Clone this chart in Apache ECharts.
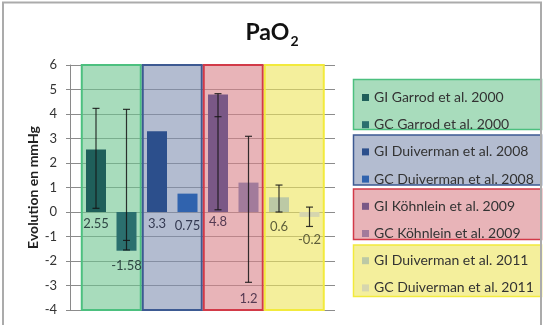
<!DOCTYPE html>
<html><head><meta charset="utf-8">
<script src="https://cdn.jsdelivr.net/npm/echarts@6/dist/echarts.min.js"></script>
<style>html,body{margin:0;padding:0;background:#fff}#c{width:544px;height:325px}</style>
</head><body><div id="c"></div>
<script>
// ---------- data ----------
const seriesNames = ['GI Garrod et al. 2000','GC Garrod et al. 2000','GI Duiverman et al. 2008','GC Duiverman et al. 2008','GI Köhnlein et al. 2009','GC Köhnlein et al. 2009','GI Duiverman et al. 2011','GC Duiverman et al. 2011'];
const barValues = [2.55, -1.58, 3.3, 0.75, 4.8, 1.2, 0.6, -0.2];
const errHigh = [4.23, 4.19, null, null, 4.83, 3.09, 1.10, 0.20];
const errLow  = [0.15, -1.55, null, null, 0.09, -2.87, 0.00, -0.59];
const errMid  = [null, -1.16, null, null, 3.89, null, null, null];
const groupFirst = [0, 2, 4, 6];
const groupLast  = [1, 3, 5, 7];
const yMin = -4, yMax = 6, yStep = 1;

// ---------- styles ----------
const FONT = 'Lato';
const barColors = ['#1f5f5a','#2b6f6e','#2c4f8c','#3063ae','#7a5886','#a27b9b','#bcc9a5','#d6d6ae'];
const labelColors = ['#2f4744','#2f4744','#343a52','#343a52','#553a52','#553a52','#5e5e3a','#5e5e3a'];
const labelNudge = [0, 4, 0, 2, -2, 75, 3, 11];
const groupFill = ['rgba(110,197,143,0.6)','rgba(128,143,177,0.6)','rgba(217,130,137,0.6)','rgba(236,228,90,0.6)'];
const groupBorder = ['#4cc07f','#3d5a92','#d23a48','#f2ea3c'];
const legendBoxY = [[79.5,129.5],[135,185],[189,239.5],[245,296.5]];

const chart = echarts.init(document.getElementById('c'), null, {renderer:'canvas'});

const barSeries = seriesNames.map((name, i) => ({
  name, type:'bar', xAxisIndex:1, yAxisIndex:1, z:3,
  barWidth:20, barGap:'-100%',
  itemStyle:{color:barColors[i]},
  data: seriesNames.map((_, j) => j === i ? barValues[i] : '-'),
  label:{show:true, position:'bottom', distance:5, offset:[0, labelNudge[i]],
    fontFamily:FONT, fontSize:13, color:labelColors[i], formatter:p => String(p.value)},
  emphasis:{disabled:true}, animation:false
}));

const errData = [];
barValues.forEach((v, i) => {
  if (errHigh[i] != null) errData.push([i, errLow[i], errHigh[i], errMid[i] == null ? '-' : errMid[i]]);
});

const groupData = groupFirst.map((f, k) => [f, groupLast[k], yMin, yMax, k]);

const option = {
  animation:false,
  title:{text:'{a|PaO}{b|2}', left:'center', top:14,
    textStyle:{rich:{
      a:{fontFamily:FONT, fontWeight:'bold', fontSize:23, color:'#111', lineHeight:28},
      b:{fontFamily:FONT, fontWeight:'bold', fontSize:14, color:'#111', lineHeight:14, padding:[16,0,0,1]}
    }}},
  legend:{data:seriesNames, orient:'vertical', left:357, top:84.5, icon:'rect',
    itemWidth:7, itemHeight:7, itemGap:11.2, selectedMode:false,
    textStyle:{fontFamily:FONT, fontSize:14, color:'#333', lineHeight:16}},
  grid:[
    {left:70, right:209, top:65, bottom:15},
    {left:80.75, right:219.25, top:65, bottom:15}
  ],
  xAxis:[
    {gridIndex:0, type:'value', show:false, min:0, max:1},
    {gridIndex:1, type:'category', data:seriesNames, show:false, boundaryGap:true}
  ],
  yAxis:[
    {gridIndex:0, type:'value', min:yMin, max:yMax, interval:yStep,
     name:'Evolution en mmHg', nameLocation:'middle', nameGap:30,
     nameTextStyle:{fontFamily:FONT, fontWeight:'bold', fontSize:14, color:'#222'},
     axisLine:{show:true, lineStyle:{color:'#8a8a8a'}},
     axisTick:{show:true, length:4, lineStyle:{color:'#8a8a8a'}},
     axisLabel:{fontFamily:FONT, fontSize:13, color:'#333', margin:13},
     splitLine:{show:true, lineStyle:{color:'#8c8c8c', width:1}}},
    {gridIndex:1, type:'value', min:yMin, max:yMax, show:false, splitLine:{show:false}}
  ],
  graphic:[
    ...legendBoxY.map((yy, k) => ({type:'rect', z:-1, silent:true,
      shape:{x:353.5, y:yy[0], width:188, height:yy[1]-yy[0]},
      style:{fill:groupFill[k], stroke:groupBorder[k], lineWidth:1.5}})),
    {type:'rect', z:100, silent:true, shape:{x:3, y:2.5, width:538, height:400},
      style:{fill:null, stroke:'#ababab', lineWidth:2}}
  ],
  series:[
    {type:'custom', name:'groups', xAxisIndex:1, yAxisIndex:1, z:1, silent:true,
     encode:{x:[0,1], y:[2,3]}, data:groupData,
     renderItem:(params, api) => {
       const bw = api.size([1,0])[0];
       const a = api.coord([api.value(0), api.value(3)]);
       const b = api.coord([api.value(1), api.value(2)]);
       const k = api.value(4);
       const x0 = a[0] - bw/2 + 1, x1 = b[0] + bw/2 - 1;
       return {type:'rect', shape:{x:x0, y:a[1], width:x1-x0, height:b[1]-a[1]},
         style:{fill:groupFill[k], stroke:groupBorder[k], lineWidth:2}};
     }},
    ...barSeries,
    {type:'custom', name:'err', xAxisIndex:1, yAxisIndex:1, z:5, silent:true,
     encode:{x:0, y:[1,2]}, data:errData,
     renderItem:(params, api) => {
       const x = api.value(0);
       const hi = api.coord([x, api.value(2)]);
       const lo = api.coord([x, api.value(1)]);
       const mid = api.value(3);
       const st = {stroke:'rgba(20,20,20,0.85)', lineWidth:1.2};
       const cap = 3.5;
       const kids = [
         {type:'line', shape:{x1:hi[0], y1:hi[1], x2:lo[0], y2:lo[1]}, style:st},
         {type:'line', shape:{x1:hi[0]-cap, y1:hi[1], x2:hi[0]+cap, y2:hi[1]}, style:st},
         {type:'line', shape:{x1:lo[0]-cap, y1:lo[1], x2:lo[0]+cap, y2:lo[1]}, style:st}
       ];
       if (isFinite(mid)) {
         const m = api.coord([x, mid]);
         kids.push({type:'line', shape:{x1:m[0]-cap, y1:m[1], x2:m[0]+cap, y2:m[1]}, style:st});
       }
       return {type:'group', children:kids};
     }}
  ]
};
chart.setOption(option);
</script>
</body></html>
